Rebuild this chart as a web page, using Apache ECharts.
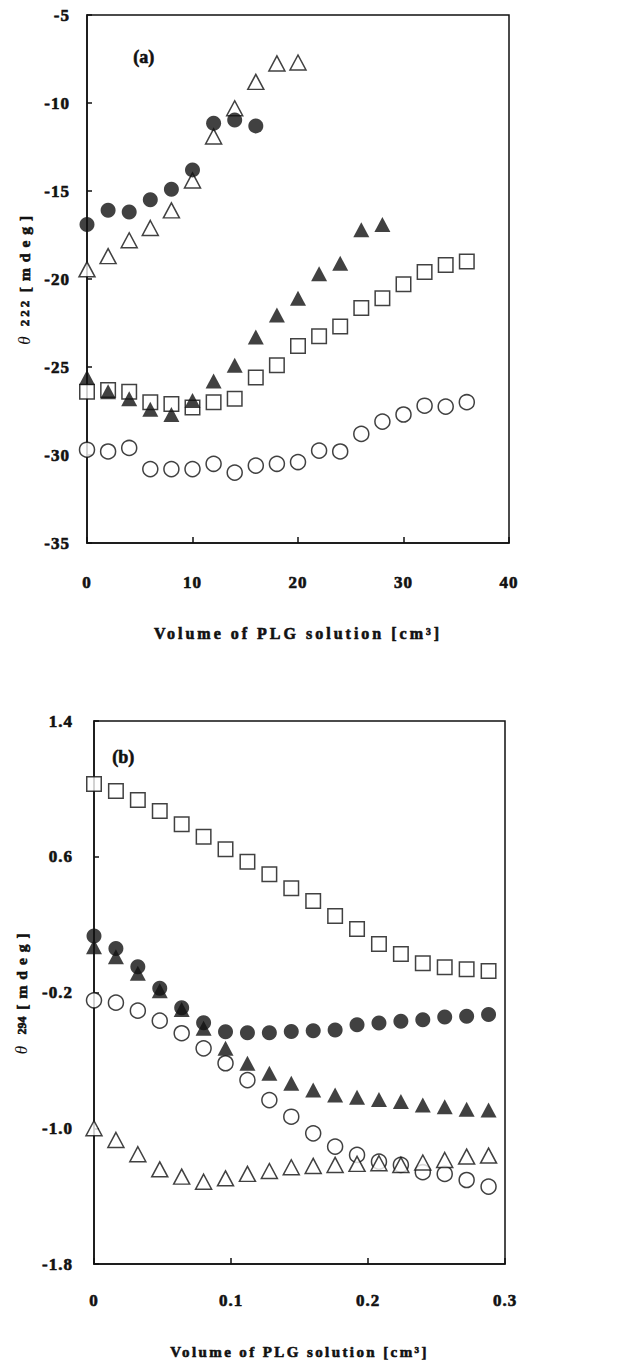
<!DOCTYPE html>
<html>
<head>
<meta charset="utf-8">
<script src="https://cdn.jsdelivr.net/npm/echarts@6/dist/echarts.min.js"></script>
<style>
  html, body { margin: 0; padding: 0; background: #fff; }
  #c { width: 619px; height: 1362px; }
  /* spaced-out lettering of the printed figure */
  #c text[style*="font-size: 17px"] { letter-spacing: 1px; }
  #c text[style*="font-size: 16px"] { letter-spacing: 3px; }
  #c text[style*="font-size: 15px"] { letter-spacing: 2.4px; }
  #c text[style*="font-size: 15.5px"] { letter-spacing: 6px; }
  #c text[style*="font-size: 13px"] { letter-spacing: 3px; }
</style>
</head>
<body>
<div id="c"></div>
<script>
// Panel (a): theta_222 vs added PLG volume (cm^3)
const volA = [0, 2, 4, 6, 8, 10, 12, 14, 16, 18, 20, 22, 24, 26, 28, 30, 32, 34, 36];
const a_openCircle = [-29.7, -29.8, -29.6, -30.8, -30.8, -30.8, -30.5, -31.0, -30.6, -30.5, -30.4, -29.75, -29.8, -28.8, -28.1, -27.7, -27.2, -27.25, -27.0];
const a_openSquare = [-26.4, -26.3, -26.4, -27.0, -27.1, -27.3, -27.0, -26.8, -25.6, -24.9, -23.8, -23.25, -22.7, -21.65, -21.1, -20.3, -19.6, -19.2, -19.0];
const a_openTriangle = [-19.45, -18.7, -17.8, -17.1, -16.1, -14.4, -11.9, -10.3, -8.8, -7.75, -7.7];
const a_filledTriangle = [-25.6, -26.4, -26.8, -27.4, -27.7, -26.9, -25.8, -24.9, -23.3, -22.05, -21.1, -19.7, -19.1, -17.2, -16.9];
const a_filledCircle = [-16.9, -16.1, -16.2, -15.5, -14.9, -13.8, -11.15, -10.97, -11.3];

// Panel (b): theta_294 vs added PLG volume (cm^3)
const volB = [0, 0.016, 0.032, 0.048, 0.064, 0.080, 0.096, 0.112, 0.128, 0.144, 0.160, 0.176, 0.192, 0.208, 0.224, 0.240, 0.256, 0.272, 0.288];
const b_openCircle = [-0.246, -0.26, -0.307, -0.366, -0.44, -0.529, -0.617, -0.716, -0.834, -0.932, -1.03, -1.108, -1.157, -1.197, -1.216, -1.259, -1.269, -1.305, -1.344];
const b_openSquare = [1.029, 0.987, 0.934, 0.870, 0.791, 0.718, 0.644, 0.571, 0.497, 0.414, 0.339, 0.251, 0.174, 0.086, 0.027, -0.028, -0.051, -0.063, -0.073];
const b_openTriangle = [-1.0, -1.069, -1.153, -1.242, -1.285, -1.315, -1.295, -1.269, -1.252, -1.23, -1.222, -1.216, -1.21, -1.206, -1.216, -1.202, -1.187, -1.167, -1.161];
const b_filledTriangle = [0.07, 0.011, -0.087, -0.19, -0.30, -0.41, -0.529, -0.617, -0.676, -0.735, -0.774, -0.804, -0.818, -0.83, -0.843, -0.863, -0.873, -0.888, -0.892];
const b_filledCircle = [0.133, 0.06, -0.048, -0.175, -0.29, -0.378, -0.431, -0.437, -0.437, -0.43, -0.425, -0.421, -0.39, -0.38, -0.37, -0.36, -0.345, -0.34, -0.33];

const yTicksB = [-1.8, -1.0, -0.2, 0.6, 1.4];

const SERIF = "'Liberation Serif', 'Times New Roman', serif";
const INK = '#111';

function pairs(xs, ys) { return ys.map((y, i) => [xs[i], y]); }

function markerSeries(gridIdx, xs, ys, shape, filled) {
  return {
    type: 'scatter',
    xAxisIndex: gridIdx,
    yAxisIndex: gridIdx,
    data: pairs(xs, ys),
    symbol: shape,
    symbolSize: shape === 'triangle' ? [16, 15] : (shape === 'rect' ? 14.5 : 15),
    itemStyle: filled
      ? { color: INK, borderColor: INK, borderWidth: 0 }
      : { color: '#fff', borderColor: INK, borderWidth: 1.5 },
    emphasis: { disabled: true },
    silent: true,
    animation: false
  };
}

// heavy bold serif lettering
const heavy = { textBorderColor: INK, textBorderWidth: 0.6 };
const tickLabel = Object.assign({ fontFamily: SERIF, fontWeight: 'bold', fontSize: 17, color: INK }, heavy);

function yNameRich(subSize, subWidth) {
  return {
    t: { fontFamily: SERIF, fontStyle: 'italic', fontSize: 17, color: INK, width: 18, align: 'center' },
    s: Object.assign({ fontFamily: SERIF, fontWeight: 'bold', fontSize: subSize, color: INK, width: subWidth, align: 'center' }, heavy),
    b: Object.assign({ fontFamily: SERIF, fontWeight: 'bold', fontSize: 15.5, color: INK, width: 84, align: 'center' }, heavy)
  };
}

function xAxisCfg(gridIdx, min, max, interval, margin, gap, nameSize) {
  return {
    gridIndex: gridIdx, type: 'value', min, max, interval,
    axisLine: { show: true, onZero: false, lineStyle: { color: INK, width: 1.5 } },
    axisTick: { show: true, inside: true, length: 6, lineStyle: { color: INK, width: 1.5 } },
    axisLabel: Object.assign({ margin }, tickLabel),
    splitLine: { show: false },
    name: 'Volume of PLG solution [cm³]',
    nameLocation: 'middle', nameGap: gap,
    nameTextStyle: Object.assign({ fontFamily: SERIF, fontWeight: 'bold', fontSize: nameSize, color: INK }, heavy)
  };
}

const option = {
  backgroundColor: '#fff',
  animation: false,
  grid: [
    { left: 87, top: 15, width: 422, height: 528, show: true, borderColor: INK, borderWidth: 1.5, backgroundColor: 'transparent' },
    { left: 94, top: 721, width: 411, height: 543, show: true, borderColor: INK, borderWidth: 1.5, backgroundColor: 'transparent' }
  ],
  xAxis: [
    xAxisCfg(0, 0, 40, 10, 31, 82, 16),
    xAxisCfg(1, 0, 0.3, 0.1, 28, 80, 15)
  ],
  yAxis: [
    {
      gridIndex: 0, type: 'value', min: -35, max: -5, interval: 5,
      axisLine: { show: true, onZero: false, lineStyle: { color: INK, width: 1.5 } },
      axisTick: { show: true, inside: true, length: 5, lineStyle: { color: INK, width: 1.5 } },
      axisLabel: Object.assign({ margin: 17 }, tickLabel),
      splitLine: { show: false },
      name: '{t|θ}{s|222}{b|[mdeg]}',
      nameLocation: 'middle', nameRotate: 90, nameGap: 54,
      nameTextStyle: { rich: yNameRich(13, 38) }
    },
    {
      gridIndex: 1, type: 'value', min: -1.8, max: 1.4,
      axisLine: { show: true, onZero: false, lineStyle: { color: INK, width: 1.5 } },
      axisTick: { show: true, inside: true, length: 5, customValues: yTicksB, lineStyle: { color: INK, width: 1.5 } },
      axisLabel: Object.assign({ margin: 21, customValues: yTicksB, formatter: v => v.toFixed(1) }, tickLabel),
      splitLine: { show: false },
      name: '{t|θ}{s|294}{b|[mdeg]}',
      nameLocation: 'middle', nameRotate: 90, nameGap: 64,
      nameTextStyle: { rich: yNameRich(12, 30) }
    }
  ],
  graphic: [
    { type: 'text', left: 133, top: 48, style: { text: '(a)', font: "bold 18px " + SERIF, fill: INK, stroke: INK, lineWidth: 0.6 } },
    { type: 'text', left: 112, top: 748, style: { text: '(b)', font: "bold 18px " + SERIF, fill: INK, stroke: INK, lineWidth: 0.6 } }
  ],
  series: [
    markerSeries(0, volA, a_openCircle, 'circle', false),
    markerSeries(0, volA, a_openSquare, 'rect', false),
    markerSeries(0, volA, a_openTriangle, 'triangle', false),
    markerSeries(0, volA, a_filledTriangle, 'triangle', true),
    markerSeries(0, volA, a_filledCircle, 'circle', true),
    markerSeries(1, volB, b_openCircle, 'circle', false),
    markerSeries(1, volB, b_openSquare, 'rect', false),
    markerSeries(1, volB, b_openTriangle, 'triangle', false),
    markerSeries(1, volB, b_filledTriangle, 'triangle', true),
    markerSeries(1, volB, b_filledCircle, 'circle', true)
  ]
};

const chart = echarts.init(document.getElementById('c'), null, { renderer: 'svg' });
chart.setOption(option);
</script>
</body>
</html>
